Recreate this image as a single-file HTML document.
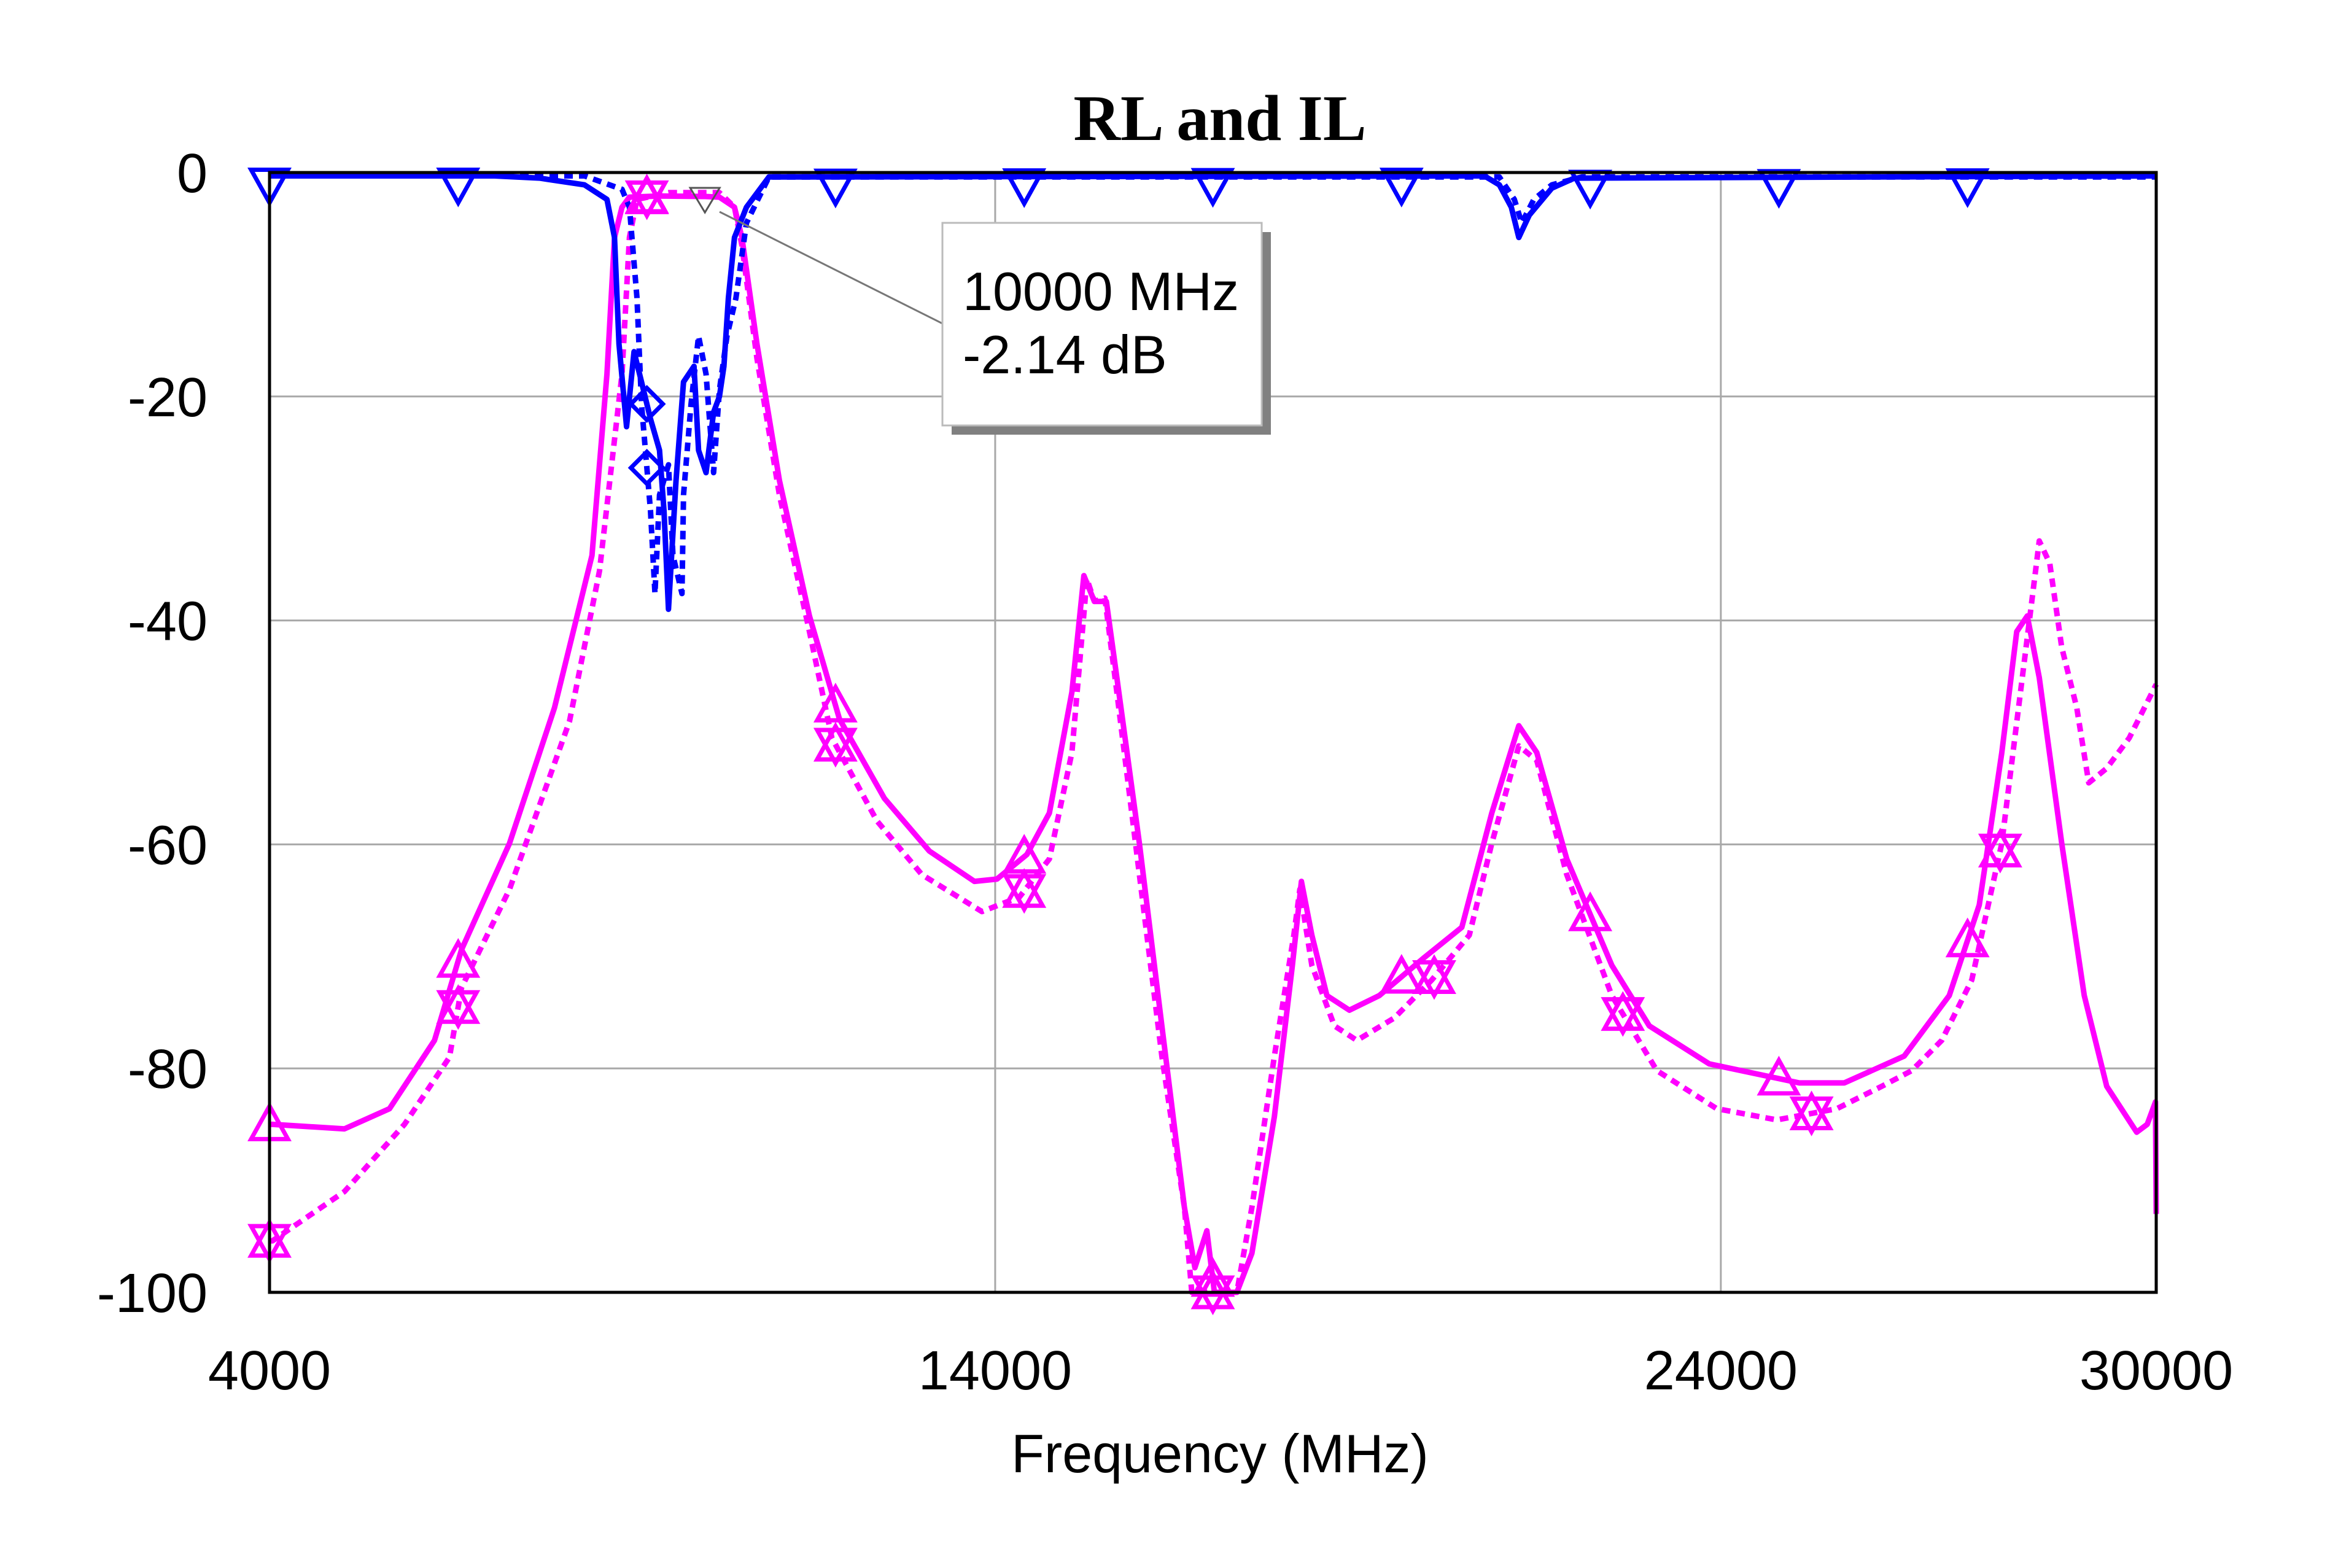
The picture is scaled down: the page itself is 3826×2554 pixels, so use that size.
<!DOCTYPE html>
<html><head><meta charset="utf-8"><style>
html,body{margin:0;padding:0;background:#fff;}
svg{display:block;}
</style></head><body>
<svg id="chart" width="3826" height="2554" viewBox="0 0 3826 2554" xmlns="http://www.w3.org/2000/svg">
<rect x="0" y="0" width="3826" height="2554" fill="#fff"/>
<text x="1987" y="228" text-anchor="middle" font-family="Liberation Serif, serif" font-weight="bold" font-size="106">RL and IL</text>
<g id="grid"></g>
<g id="series"></g>
<g id="axes"></g>
<text x="1987" y="2398" text-anchor="middle" font-family="Liberation Sans, sans-serif" font-size="88">Frequency (MHz)</text>
<g>
<line x1="1172" y1="345" x2="1535" y2="527" stroke="#777" stroke-width="3"/>
<rect x="1550" y="378" width="520" height="330" fill="#808080"/>
<rect x="1535" y="363" width="520" height="330" fill="#fff" stroke="#bbb" stroke-width="3"/>
<text x="1568" y="505" font-family="Liberation Sans, sans-serif" font-size="88">10000 MHz</text>
<text x="1568" y="608" font-family="Liberation Sans, sans-serif" font-size="88">-2.14 dB</text>
</g>
</svg>
<script>
const xTicks=[4000,14000,24000,30000];
const yTicks=[0,-20,-40,-60,-80,-100];
const ilSolidF=[4000,4041,5033,5653,6273,6646,7307,7927,8444,8650,8754,8857,8960,9374,10000,10200,10407,10510,10717,11027,11440,11854,12474,13094,13714,14024,14437,14747,15057,15222,15367,15532,15677,15987,16297,16607,16752,16917,17021,17331,17538,17848,18096,18220,18364,18571,18881,19294,19914,20431,20844,21216,21464,21877,22498,23014,23841,25081,25701,26528,27148,27562,27872,28078,28223,28388,28698,29008,29318,29731,29876,29990,30000];
const ilSolidV=[-85,-85,-85.4,-83.6,-77.5,-69.4,-59.9,-47.8,-34.2,-18,-5.8,-3.1,-2.2,-2.1,-2.14,-2.2,-3.1,-5.8,-15.3,-27.5,-39.6,-48.8,-55.9,-60.6,-63.3,-63.1,-60.9,-57.2,-46.4,-36,-38.3,-38.3,-45.1,-59.9,-76.2,-92.4,-97.8,-94.5,-100,-100,-96.5,-84.3,-70.8,-63.3,-68.1,-73.5,-74.8,-73.5,-70.1,-67.4,-57.2,-49.4,-51.8,-61.3,-70.8,-76.2,-79.6,-81.3,-81.3,-78.9,-73.5,-65.4,-51.8,-41,-39.6,-45.1,-59.9,-73.5,-81.6,-85.7,-85,-83,-93];
const ilDotF=[4000,4041,5033,5860,6480,6646,7307,8134,8547,8857,8960,9064,9500,10200,10407,10510,10717,11027,11440,11750,12370,12990,13817,14334,14747,15057,15264,15367,15512,15677,15987,16297,16607,16710,17331,17538,17848,18116,18199,18364,18674,18984,19500,20017,20534,20844,21216,21464,21877,22498,23118,23945,24772,25598,26218,26632,27045,27458,27872,28078,28285,28388,28533,28698,28905,29070,29318,29628,30000];
const ilDotV=[-95.4,-95.4,-91,-85,-79,-72.8,-64,-49,-35.6,-18,-5.8,-2.4,-1.8,-1.8,-3.1,-6.5,-16.6,-28.8,-41,-50.5,-57.9,-62.7,-66,-64.7,-61.3,-51.8,-36.3,-38.3,-38,-46.4,-62.7,-78.9,-92.4,-100,-100,-92.4,-78.9,-68.1,-64,-70.8,-76.2,-77.5,-75.5,-72.1,-68.1,-59.9,-51.2,-52.5,-62.7,-73.5,-80.2,-83.6,-84.6,-83.6,-81.6,-80.2,-77.5,-72.1,-59.9,-49.1,-38.3,-32.9,-34.9,-42.4,-47.8,-54.5,-53.2,-50.5,-45.7];
const rlSolidF=[4000,7100,7720,8340,8650,8754,8816,8920,9023,9126,9250,9374,9436,9498,9602,9705,9850,9912,10016,10120,10200,10262,10324,10407,10572,10882,20741,20948,21113,21216,21361,21671,21981,30000];
const rlSolidV=[-0.3,-0.3,-0.5,-1.1,-2.4,-5.8,-15.3,-22.7,-16,-18.7,-22,-24.8,-30.2,-39,-27.5,-18.7,-17.3,-24.8,-26.8,-21.4,-20,-17.3,-11.2,-5.8,-3.1,-0.4,-0.3,-1.1,-3.1,-5.8,-3.8,-1.4,-0.5,-0.3];
const rlDotF=[4000,8340,8857,8960,9064,9126,9250,9312,9374,9498,9560,9684,9705,9808,9912,10016,10120,10200,10304,10428,10572,10882,20948,21154,21257,21423,21671,22084,30000];
const rlDotV=[-0.3,-0.3,-1.5,-3.1,-11.2,-20.7,-30.2,-37.6,-28.8,-26.1,-34.2,-37.6,-28.8,-20.7,-14.6,-18,-26.8,-19.4,-14.6,-11.2,-4.5,-0.4,-0.4,-2.4,-4.5,-2.4,-1.1,-0.4,-0.4];
const markerF=[4000,6600,9200,11800,14400,17000,19600,22200,24800,27400];
const dotMarkerF=[4000,6600,9200,11800,14400,17000,20050,22650,25250,27850];

const L=439,R=3512,T=281,B=2105;
const fx=f=>L+(f-4000)/(30000-4000)*(R-L);
const fy=v=>T+(0-v)/(100)*(B-T);
const NS="http://www.w3.org/2000/svg";
function mk(tag,attrs,parent){const e=document.createElementNS(NS,tag);for(const k in attrs)e.setAttribute(k,attrs[k]);parent.appendChild(e);return e;}
function interp(F,V,f){for(let i=1;i<F.length;i++){if(f<=F[i]){const t=(f-F[i-1])/(F[i]-F[i-1]||1);return V[i-1]+t*(V[i]-V[i-1]);}}return V[V.length-1];}
const grid=document.getElementById('grid'),axes=document.getElementById('axes'),ser=document.getElementById('series');
yTicks.forEach(v=>{
 if(v!==0&&v!==-100){const g=mk('line',{x1:L,x2:R,y1:fy(v),y2:fy(v),stroke:'#a8a8a8','stroke-width':3},grid);
 
 }
 const t=mk('text',{x:338,y:fy(v)+32,'text-anchor':'end','font-family':'Liberation Sans, sans-serif','font-size':90},axes);
 t.textContent=String(v);
 
 
});
xTicks.forEach(f=>{
 if(f!==4000&&f!==30000){const g=mk('line',{x1:fx(f),x2:fx(f),y1:T,y2:B,stroke:'#a8a8a8','stroke-width':3},grid);
 
 }
 const t=mk('text',{x:fx(f),y:2263,'text-anchor':'middle','font-family':'Liberation Sans, sans-serif','font-size':90},axes);
 t.textContent=String(f);
 
 
});
const frame=mk('rect',{x:L,y:T,width:R-L,height:B-T,fill:'none',stroke:'#000','stroke-width':5},axes);


function clampY(v){return fy(Math.max(-100,Math.min(0,v)));}
function line(F,V,color,dash,name){
 const d=F.map((f,i)=>(i?'L':'M')+fx(f).toFixed(1)+' '+clampY(V[i]).toFixed(1)).join(' ');
 const p=mk('path',{d:d,fill:'none',stroke:color,'stroke-width':9,'stroke-linejoin':'round'},ser);
 if(dash)p.setAttribute('stroke-dasharray','14 10');
 
 
}
function tri(x,y,up,color,name){
 const s=30;const pts=up?[[x,y-s],[x-s,y+s*0.8],[x+s,y+s*0.8]]:[[x,y+s],[x-s,y-s*0.8],[x+s,y-s*0.8]];
 const p=mk('polygon',{points:pts.map(q=>q.join(',')).join(' '),fill:'none',stroke:color,'stroke-width':7},ser);
 
 
}
function diamond(x,y,color,name){
 const s=26;
 const p=mk('polygon',{points:[[x,y-s],[x+s,y],[x,y+s],[x-s,y]].map(q=>q.join(',')).join(' '),fill:'none',stroke:color,'stroke-width':7},ser);
 
 
}
line(ilDotF,ilDotV,'#ff00ff',true,'il-dotted-line');
line(ilSolidF,ilSolidV,'#ff00ff',false,'il-solid-line');
line(rlDotF,rlDotV,'#0000ff',true,'rl-dotted-line');
line(rlSolidF,rlSolidV,'#0000ff',false,'rl-solid-line');
markerF.forEach(f=>{
 const x=fx(f);
 tri(x,clampY(interp(ilSolidF,ilSolidV,f)),true,'#ff00ff','il-solid-marker');
 const rv=interp(rlSolidF,rlSolidV,f);
 if(rv<-5)diamond(x,clampY(rv),'#0000ff','rl-solid-marker');else tri(x,clampY(rv)+14,false,'#0000ff','rl-solid-marker');
});
dotMarkerF.forEach(f=>{
 const x=fx(f),y=clampY(interp(ilDotF,ilDotV,f));
 tri(x,y,true,'#ff00ff','il-dotted-marker');
 tri(x,y,false,'#ff00ff','il-dotted-marker');
 const rv=interp(rlDotF,rlDotV,f);
 if(rv<-5)diamond(x,clampY(rv),'#0000ff','rl-dotted-marker');
});
const mx=fx(10000),my=fy(-2.14);
const m=mk('polygon',{points:`${mx-24},${my-14} ${mx+24},${my-14} ${mx},${my+26}`,fill:'none',stroke:'#555','stroke-width':3},ser);


</script>
</body></html>
